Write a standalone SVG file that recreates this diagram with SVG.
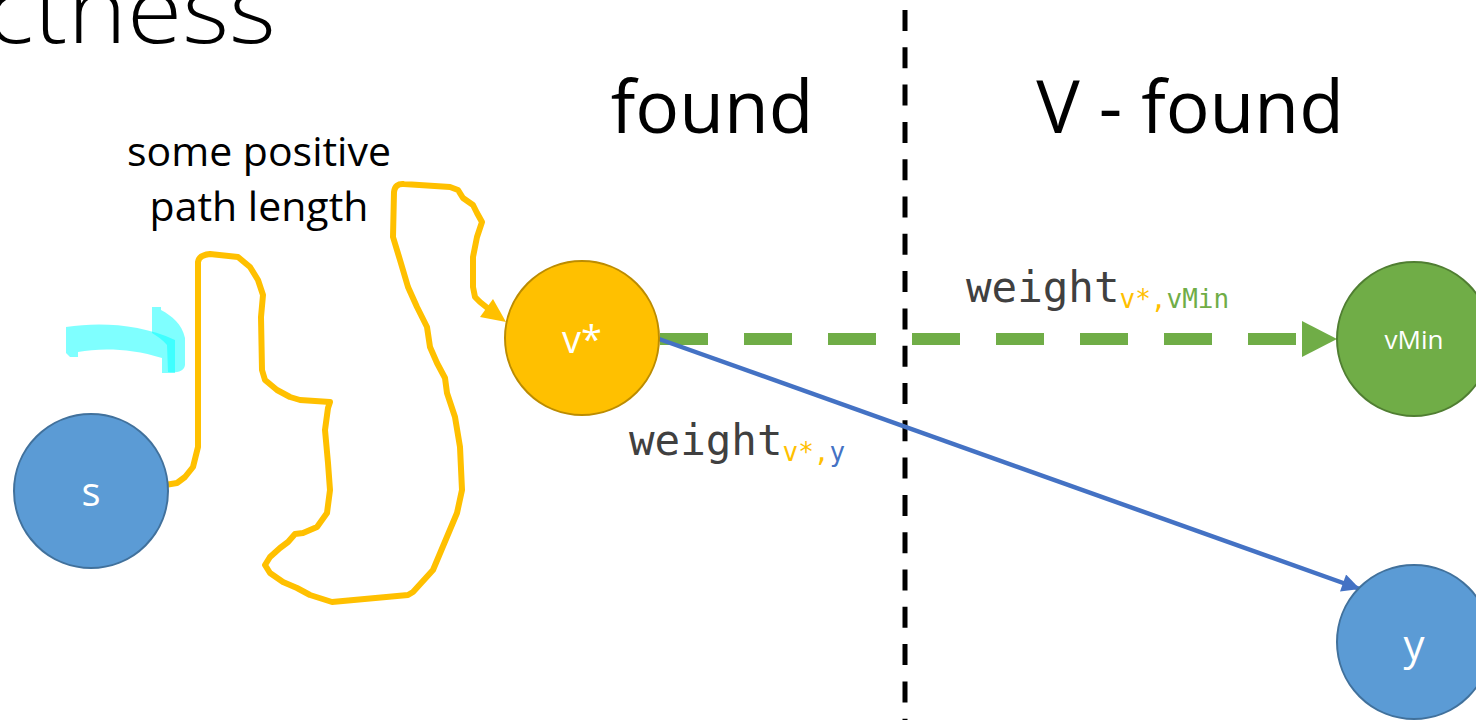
<svg xmlns="http://www.w3.org/2000/svg" width="1476" height="720" viewBox="0 0 1476 720">
  <style>
    .sans { font-family: "Open Sans", "Liberation Sans", sans-serif; }
    .mono { font-family: "DejaVu Sans Mono", "Liberation Mono", monospace; }
    .node-label { font-family: "Open Sans", "Liberation Sans", sans-serif; fill: #ffffff; text-anchor: middle; }
    .heading { font-size: 73px; fill: #000000; }
    .weight { font-size: 42.5px; fill: #404040; }
    .sub { font-size: 26px; }
    .yl { fill: #FFC000; }
    .gr { fill: #70AD47; }
    .bl { fill: #4472C4; }
  </style>
  <defs>
    <marker id="arrowBlue" viewBox="0 0 10 10" refX="10" refY="5" markerWidth="22" markerHeight="18" markerUnits="userSpaceOnUse" orient="auto">
      <path d="M0,0 L10,5 L0,10 Z" fill="#4472C4"/>
    </marker>
  </defs>
  <rect width="1476" height="720" fill="#ffffff"/>

  <!-- title fragment -->
  <text class="sans" x="-14" y="43" font-size="92" font-weight="300" textLength="290" lengthAdjust="spacingAndGlyphs" fill="#000">ctness</text>

  <!-- headings -->
  <text class="sans heading" x="712" y="133" text-anchor="middle">found</text>
  <text class="sans heading" x="1190" y="133" text-anchor="middle">V - found</text>

  <!-- divider -->
  <line x1="905" y1="10" x2="905" y2="720" stroke="#000" stroke-width="5" stroke-dasharray="21 16.3"/>

  <!-- cyan curved arrow -->
  <g id="cyan-arrow" fill="#00FFFF" fill-opacity="0.5">
    <path d="M66,327 C100,322 140,324 175,340 L175,373 L162,373 L162,358 C130,348 100,348 78,352 L78,357 L70,357 L66,353 Z"/>
    <path d="M152,307 L161,307 L161,310 C172,316 182,324 185,338 L185,365 C184,372 176,373 168,372 L167,345 C163,340 157,336 152,333 Z"/>
  </g>

  <!-- path annotation -->
  <text class="sans" font-size="41" fill="#000" text-anchor="middle"><tspan x="259" y="166">some positive</tspan><tspan x="259" y="221">path length</tspan></text>

  <g id="connectors">
    <!-- squiggly path s -> v* -->
    <path id="path-s-v" fill="none" stroke="#FFC000" stroke-width="6" stroke-linejoin="round" stroke-linecap="butt"
      d="M165,485 L177,483 L185,477 L193,467 L198,447 L198,262 Q199,255 210,254 L238,257 L250,267 L258,280 L263,295 L261,317 L262,370 L265,380 L277,390 L290,397 L300,400 L330,402 L328,408 L325,430 L328,463 L330,490 L327,513 L317,527 L303,533 L295,534 L288,542 L280,548 L270,557 L265,565 L270,573 L283,582 L297,588 L310,595 L332,602 L408,595 L413,592 L433,570 L457,513 L462,490 L460,447 L455,417 L447,393 L445,378 L437,363 L430,347 L427,327 L417,307 L408,287 L400,260 L393,237 L394,192 Q395,183 404,184 L450,187 L458,190 L463,198 L473,205 L477,213 L482,222 L477,237 L473,257 L473,287 L475,297 L480,302 L490,310"/>
    <polygon points="506,322 480,317 493,299" fill="#FFC000"/>

    <!-- v* -> vMin dashed green -->
    <line id="edge-v-vmin" x1="660" y1="339" x2="1302" y2="339" stroke="#70AD47" stroke-width="12" stroke-dasharray="48 36"/>
    <polygon points="1302,321 1337,339 1302,357" fill="#70AD47"/>

    <!-- v* -> y blue -->
    <line id="edge-v-y" x1="659" y1="339" x2="1360" y2="589" stroke="#4472C4" stroke-width="4.5" marker-end="url(#arrowBlue)"/>
  </g>

  <!-- edge labels -->
  <g id="label-v-vmin">
    <text class="mono weight" x="966" y="302">weight<tspan class="sub yl" dy="6">v*,</tspan><tspan class="sub gr">vMin</tspan></text>
  </g>
  <g id="label-v-y">
    <text class="mono weight" x="629" y="455">weight<tspan class="sub yl" dy="6">v*,</tspan><tspan class="sub bl">y</tspan></text>
  </g>

  <!-- nodes -->
  <g id="node-s">
    <circle cx="91" cy="491" r="77" fill="#5B9BD5" stroke="#41719C" stroke-width="2"/>
    <text class="node-label" x="91" y="506" font-size="40">s</text>
  </g>
  <g id="node-vstar">
    <circle cx="582" cy="338" r="77" fill="#FFC000" stroke="#BC8C00" stroke-width="2"/>
    <text class="node-label" x="582" y="353" font-size="38">v*</text>
  </g>
  <g id="node-vmin">
    <circle cx="1414" cy="339" r="77" fill="#70AD47" stroke="#507E32" stroke-width="2"/>
    <text class="node-label" x="1414" y="349" font-size="26">vMin</text>
  </g>
  <g id="node-y">
    <circle cx="1414" cy="642" r="77" fill="#5B9BD5" stroke="#41719C" stroke-width="2"/>
    <text class="node-label" x="1414" y="660" font-size="42">y</text>
  </g>
</svg>
